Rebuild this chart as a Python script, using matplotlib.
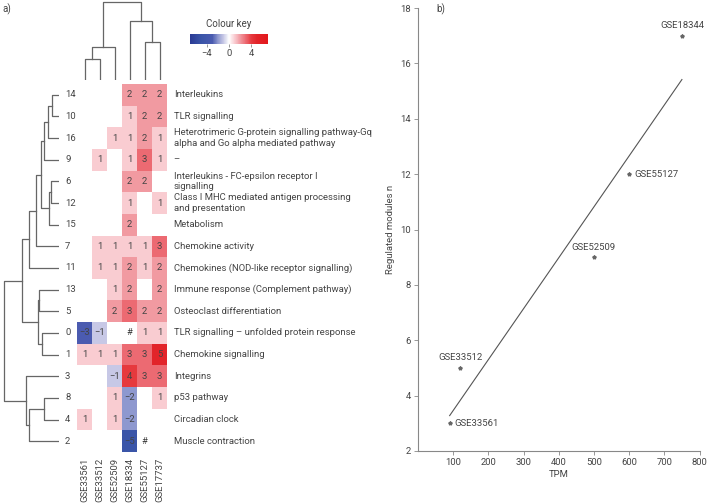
import numpy as np
import matplotlib
matplotlib.use("Agg")
import matplotlib.pyplot as plt
from matplotlib.colors import LinearSegmentedColormap, Normalize

plt.rcParams['font.family'] = ['Roboto', 'DejaVu Sans']
plt.rcParams['font.size'] = 6.8
TEXT = '#444444'
LINE = '#666666'

# ---- panel a: module heatmap ----
datasets = ["GSE33561", "GSE33512", "GSE52509", "GSE18334", "GSE55127", "GSE17737"]
modules = ["14", "10", "16", "9", "6", "12", "15", "7", "11", "13", "5", "0", "1", "3", "8", "4", "2"]
pathways = [
    "Interleukins",
    "TLR signalling",
    "Heterotrimeric G-protein signalling pathway-Gq\nalpha and Go alpha mediated pathway",
    "\u2013",
    "Interleukins - FC-epsilon receptor I\nsignalling",
    "Class I MHC mediated antigen processing\nand presentation",
    "Metabolism",
    "Chemokine activity",
    "Chemokines (NOD-like receptor signalling)",
    "Immune response (Complement pathway)",
    "Osteoclast differentiation",
    "TLR signalling \u2013 unfolded protein response",
    "Chemokine signalling",
    "Integrins",
    "p53 pathway",
    "Circadian clock",
    "Muscle contraction",
]
# None = empty cell, "#" = flagged cell without colour
cells = [
    [None, None, None, 2, 2, 2],
    [None, None, None, 1, 2, 2],
    [None, None, 1, 1, 2, 1],
    [None, 1, None, 1, 3, 1],
    [None, None, None, 2, 2, None],
    [None, None, None, 1, None, 1],
    [None, None, None, 2, None, None],
    [None, 1, 1, 1, 1, 3],
    [None, 1, 1, 2, 1, 2],
    [None, None, 1, 2, None, 2],
    [None, None, 2, 3, 2, 2],
    [-3, -1, None, "#", 1, 1],
    [1, 1, 1, 3, 3, 5],
    [None, None, -1, 4, 3, 3],
    [None, None, 1, -2, None, 1],
    [1, None, 1, -2, None, None],
    [None, None, None, -5, "#", None],
]

# dendrograms as (left, right, merge height)
row_tree = (
    ((((((("14", "10", 7.3), "16", 10.7), "9", 14.7),
         (("6", "12", 8.3), "15", 9.7), 18), "7", 23), "11", 30),
      (("13", "5", 19.7), ("0", "1", 17.3), 21.3), 36.7),
    ("3", (("8", "4", 14.7), "2", 29.7), 33),
    55,
)
col_tree = (
    (("GSE33561", "GSE33512", 21), "GSE52509", 33),
    ("GSE18334", ("GSE55127", "GSE17737", 38), 59),
    78,
)

# ---- panel b: regulated modules vs TPM ----
tpm = [90, 120, 500, 600, 750]
n_modules = [3, 5, 9, 12, 17]
point_names = ["GSE33561", "GSE33512", "GSE52509", "GSE55127", "GSE18344"]
label_side = ["right", "above", "above", "right", "above"]

cmap = LinearSegmentedColormap.from_list("key", [
    (0.0, '#2a3a94'), (2 / 14, '#3a55a8'), (4 / 14, '#4a5bb0'), (5 / 14, '#8e98cf'),
    (6 / 14, '#c8c9e6'), (0.5, '#ffffff'), (8 / 14, '#f9cdd2'), (9 / 14, '#f19aa1'),
    (10 / 14, '#ec6a72'), (11 / 14, '#e63a3f'), (12 / 14, '#e2242a'), (1.0, '#e3181c'),
])
norm = Normalize(-7, 7)

W, H = 707, 504
fig = plt.figure(figsize=(W / 100, H / 100), dpi=100)


def frac(x0, y0, x1, y1):
    return [x0 / W, 1 - y1 / H, (x1 - x0) / W, (y1 - y0) / H]


def draw_tree(ax, node, pos, top):
    if isinstance(node, str):
        return pos[node], 0
    a, b, h = node
    pa, ha = draw_tree(ax, a, pos, top)
    pb, hb = draw_tree(ax, b, pos, top)
    if top:
        ax.plot([pa, pa, pb, pb], [ha, h, h, hb], color=LINE, lw=0.9)
    else:
        ax.plot([ha, h, h, hb], [pa, pa, pb, pb], color=LINE, lw=0.9)
    return (pa + pb) / 2, h


nr, nc = len(modules), len(datasets)
values = np.array([[np.nan if (v is None or v == "#") else v for v in row] for row in cells], float)

ax = fig.add_axes(frac(77, 84, 167, 452))
ax.pcolormesh(np.ma.masked_invalid(values), cmap=cmap, norm=norm)
ax.set_xlim(0, nc)
ax.set_ylim(nr, 0)
for i in range(nr):
    for j in range(nc):
        v = cells[i][j]
        if v is None:
            continue
        s = "#" if v == "#" else str(v).replace("-", "\u2212")
        ax.text(j + 0.5, i + 0.5, s, ha='center', va='center', color=TEXT, fontsize=6.8)
    ax.text(-0.8, i + 0.5, modules[i], ha='left', va='center', color=TEXT)
    ax.text(nc + 0.45, i + 0.5, pathways[i], ha='left', va='center', color=TEXT,
            linespacing=1.25)
ax.set_xticks(np.arange(nc) + 0.5)
ax.set_xticklabels(datasets, rotation=90, color=TEXT)
ax.tick_params(axis='x', length=0, pad=4)
ax.set_yticks([])
for sp in ax.spines.values():
    sp.set_visible(False)

# row dendrogram
axl = fig.add_axes(frac(3, 84, 59, 452))
draw_tree(axl, row_tree, {m: i + 0.5 for i, m in enumerate(modules)}, top=False)
axl.set_xlim(56, 0)
axl.set_ylim(nr, 0)
axl.axis('off')

# column dendrogram
axt = fig.add_axes(frac(77, 1, 167, 80))
draw_tree(axt, col_tree, {d: j + 0.5 for j, d in enumerate(datasets)}, top=True)
axt.set_xlim(0, nc)
axt.set_ylim(0, 79)
axt.axis('off')

# colour key
cax = fig.add_axes(frac(190, 34, 268, 44))
sm = plt.cm.ScalarMappable(norm=norm, cmap=cmap)
cb = fig.colorbar(sm, cax=cax, orientation='horizontal', ticks=[-4, 0, 4])
cb.outline.set_visible(False)
cb.ax.set_xticklabels(["\u22124", "0", "4"], color=TEXT)
cb.ax.tick_params(length=2, width=0.6, color='#888888', pad=1.5)
cax.set_title("Colour key", color=TEXT, fontsize=7, pad=5)

fig.text(2 / W, 1 - 9 / H, "a)", color=TEXT, fontsize=7, va='center')
fig.text(436 / W, 1 - 9 / H, "b)", color=TEXT, fontsize=7, va='center')

# ---- scatter ----
axb = fig.add_axes(frac(418, 8, 699.5, 451))
axb.plot(tpm, n_modules, linestyle='none', marker='*', ms=2.8, color='#666666')
slope, icpt = np.polyfit(tpm, n_modules, 1)
xfit = np.array([min(tpm), max(tpm)])
axb.plot(xfit, slope * xfit + icpt, color='#555555', lw=0.8)
for x, y, name, side in zip(tpm, n_modules, point_names, label_side):
    if side == "right":
        axb.annotate(name, (x, y), xytext=(3.5, 0), textcoords='offset points',
                     ha='left', va='center', color=TEXT)
    else:
        axb.annotate(name, (x, y), xytext=(0, 4), textcoords='offset points',
                     ha='center', va='bottom', color=TEXT)
axb.set_xlim(0, 800)
axb.set_ylim(2, 18)
axb.set_xticks(range(100, 801, 100))
axb.set_yticks(range(2, 19, 2))
axb.set_xlabel("TPM", color=TEXT, labelpad=2)
axb.set_ylabel("Regulated modules n", color=TEXT, labelpad=4)
for side in ['top', 'right']:
    axb.spines[side].set_visible(False)
for side in ['left', 'bottom']:
    axb.spines[side].set_color('#888888')
    axb.spines[side].set_linewidth(0.8)
axb.tick_params(length=3, width=0.6, color='#888888', labelcolor=TEXT, pad=2)

fig.savefig("out.png", dpi=100)
